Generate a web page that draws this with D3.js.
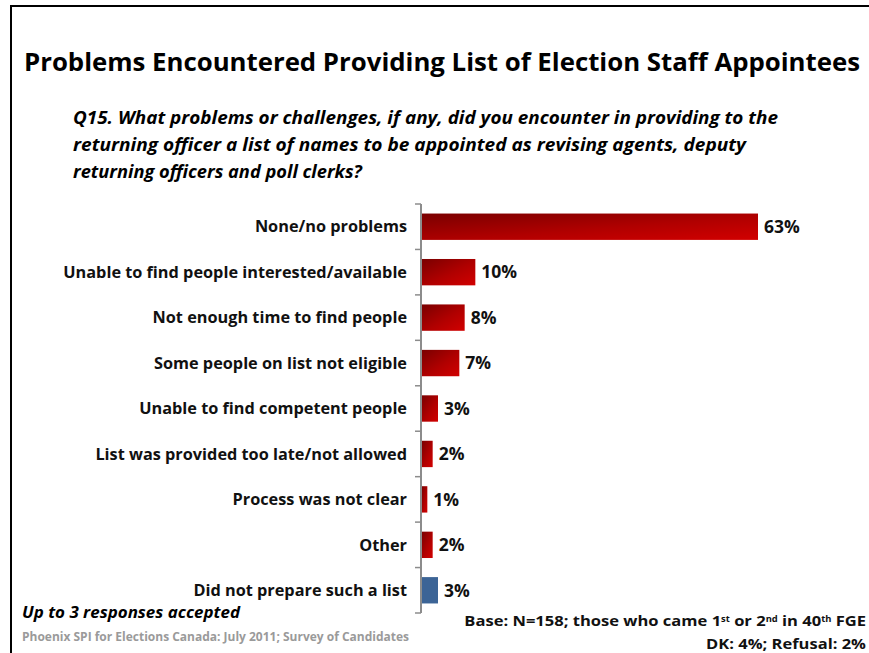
<!DOCTYPE html>
<html>
<head>
<meta charset="utf-8">
<script src="https://cdn.jsdelivr.net/npm/d3@7"></script>
<style>
  html, body { margin: 0; padding: 0; background: #fff; }
  svg { display: block; }
  text { font-family: "Open Sans", Lato, sans-serif; }
</style>
</head>
<body>
<svg id="chart" width="869" height="653"></svg>
<script>
// Survey responses (percent of candidates)
const categories = [
  "None/no problems",
  "Unable to find people interested/available",
  "Not enough time to find people",
  "Some people on list not eligible",
  "Unable to find competent people",
  "List was provided too late/not allowed",
  "Process was not clear",
  "Other",
  "Did not prepare such a list"
];
const values = [63, 10, 8, 7, 3, 2, 1, 2, 3];
const barKinds = ["problem", "problem", "problem", "problem", "problem", "problem", "problem", "problem", "none"];

const titleText = "Problems Encountered Providing List of Election Staff Appointees";
const questionLines = [
  "Q15. What problems or challenges, if any, did you encounter in providing to the",
  "returning officer a list of names to be appointed as revising agents, deputy",
  "returning officers and poll clerks?"
];
const noteText = "Up to 3 responses accepted";
const sourceText = "Phoenix SPI for Elections Canada: July 2011; Survey of Candidates";

const svg = d3.select("#chart");

// Slide frame (top and left edges visible)
svg.append("rect")
  .attr("x", 11).attr("y", 6)
  .attr("width", 900).attr("height", 700)
  .attr("fill", "none").attr("stroke", "#000").attr("stroke-width", 2);

// Title
svg.append("text")
  .attr("x", 24).attr("y", 71)
  .attr("font-size", 25).attr("font-weight", 700)
  .attr("textLength", 836).attr("lengthAdjust", "spacingAndGlyphs")
  .text(titleText);

// Question text
const qWidths = [705, 673, 289];
questionLines.forEach((line, i) => {
  svg.append("text")
    .attr("x", 73).attr("y", 124 + i * 27)
    .attr("font-size", 17.5).attr("font-weight", 700).attr("font-style", "italic")
    .attr("textLength", qWidths[i]).attr("lengthAdjust", "spacingAndGlyphs")
    .text(line);
});

// Scales
const x0 = 422;
const x = d3.scaleLinear().domain([0, 63]).range([x0, x0 + 336]);
const y = d3.scaleBand().domain(categories).range([204, 613]).paddingInner(0.42).paddingOuter(0.21);

// Gradient for problem bars
const defs = svg.append("defs");
const grad = defs.append("linearGradient")
  .attr("id", "redGrad")
  .attr("x1", 0).attr("y1", 0).attr("x2", 1).attr("y2", 1);
grad.append("stop").attr("offset", "0%").attr("stop-color", "#7a0000");
grad.append("stop").attr("offset", "55%").attr("stop-color", "#b00000");
grad.append("stop").attr("offset", "100%").attr("stop-color", "#d20000");

const data = categories.map((c, i) => ({ cat: c, val: values[i], kind: barKinds[i] }));

// Bars
svg.append("g").selectAll("rect")
  .data(data).join("rect")
  .attr("x", x(0))
  .attr("y", d => y(d.cat))
  .attr("width", d => x(d.val) - x(0))
  .attr("height", y.bandwidth())
  .attr("fill", d => d.kind === "none" ? "#3c6496" : "url(#redGrad)");

// Category axis
const axisG = svg.append("g").attr("transform", `translate(${x0 - 1},0)`);
axisG.append("line")
  .attr("x1", 0).attr("x2", 0).attr("y1", 204).attr("y2", 613)
  .attr("stroke", "#8c8c8c").attr("stroke-width", 2);
const boundaries = d3.range(categories.length + 1).map(i => 204 + i * (409 / categories.length));
axisG.selectAll("line.tick")
  .data(boundaries).join("line")
  .attr("class", "tick")
  .attr("x1", -6).attr("x2", 0)
  .attr("y1", d => d).attr("y2", d => d)
  .attr("stroke", "#8c8c8c").attr("stroke-width", 1.5);

// Category labels: size chosen so the longest label spans the label column
const labelBase = 15;
const labels = svg.append("g").selectAll("text")
  .data(data).join("text")
  .attr("x", 407)
  .attr("y", d => y(d.cat) + y.bandwidth() / 2)
  .attr("dy", "0.35em")
  .attr("text-anchor", "end")
  .attr("font-size", labelBase).attr("font-weight", 700)
  .attr("fill", "#111")
  .text(d => d.cat);
const longest = d3.max(labels.nodes(), n => n.getComputedTextLength());
const fitSize = labelBase * 344 / longest;
labels.attr("font-size", Math.min(fitSize, 17));

// Value labels
svg.append("g").selectAll("text")
  .data(data).join("text")
  .attr("x", d => x(d.val) + 6)
  .attr("y", d => y(d.cat) + y.bandwidth() / 2)
  .attr("dy", "0.36em")
  .attr("font-size", 17.5).attr("font-weight", 700)
  .attr("fill", "#111")
  .text(d => d.val + "%");

// Footnotes
svg.append("text")
  .attr("x", 22).attr("y", 618)
  .attr("font-size", 16).attr("font-weight", 700).attr("font-style", "italic")
  .attr("textLength", 218).attr("lengthAdjust", "spacingAndGlyphs")
  .text(noteText);

svg.append("text")
  .attr("x", 22).attr("y", 641)
  .attr("font-size", 11.5).attr("font-weight", 700)
  .attr("fill", "#9a9a9a")
  .attr("textLength", 387).attr("lengthAdjust", "spacingAndGlyphs")
  .text(sourceText);

// Base note with ordinal superscripts
const baseT = svg.append("text")
  .attr("x", 866).attr("y", 626)
  .attr("text-anchor", "end")
  .attr("font-size", 15).attr("font-weight", 700)
  .attr("fill", "#111");
const baseParts = [
  ["Base: N=158; those who came 1", false], ["st", true], [" or 2", false], ["nd", true],
  [" in 40", false], ["th", true], [" FGE", false]
];
baseParts.forEach(([t, sup]) => {
  baseT.append("tspan")
    .attr("font-size", sup ? 8.5 : 15)
    .attr("baseline-shift", sup ? "40%" : null)
    .text(t);
});
// stretch to span its column
const baseW = baseT.node().getComputedTextLength();
baseT.attr("transform", `translate(866,0) scale(${402 / baseW},1) translate(-866,0)`);

const dkT = svg.append("text")
  .attr("x", 866).attr("y", 649)
  .attr("text-anchor", "end")
  .attr("font-size", 15).attr("font-weight", 700)
  .attr("fill", "#111")
  .text("DK: 4%; Refusal: 2%");
const dkW = dkT.node().getComputedTextLength();
dkT.attr("transform", `translate(866,0) scale(${160 / dkW},1) translate(-866,0)`);
</script>
</body>
</html>
